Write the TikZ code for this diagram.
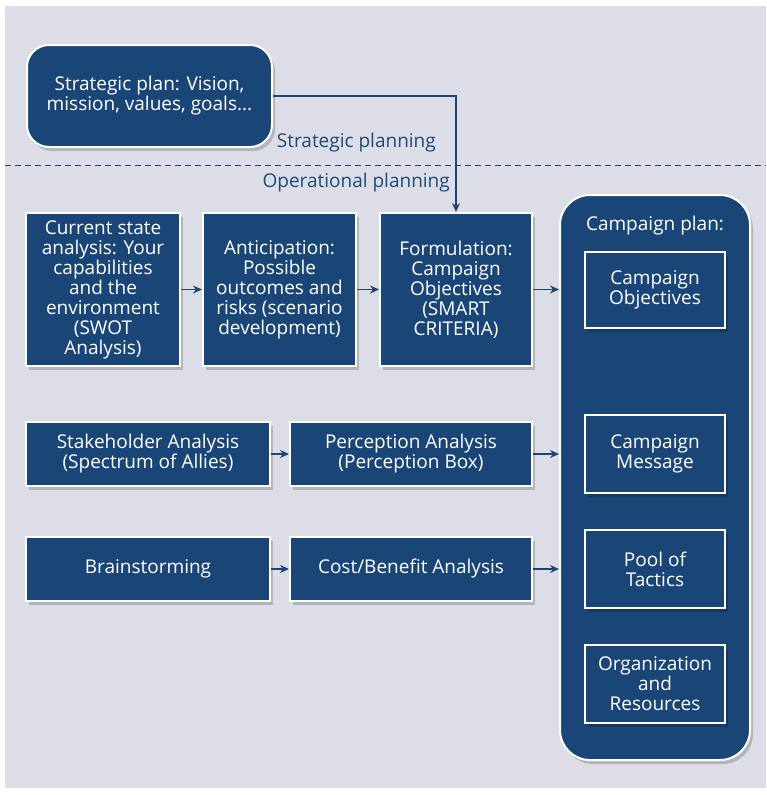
\documentclass[tikz,border=0pt]{standalone}
\usepackage{fontspec}
\setmainfont{Open Sans}
\usetikzlibrary{arrows.meta,shadows}
\definecolor{myblue}{HTML}{1A4577}
\definecolor{bgc}{HTML}{DCDDE6}
\definecolor{txtblue}{HTML}{1F4A7A}
\newcommand{\fsz}{\fontsize{19}{20}\selectfont}
\tikzset{
  box/.style={fill=myblue, draw=white, line width=2pt, text=white, align=center,
    font=\fsz, inner sep=1pt,
    drop shadow={shadow xshift=3pt, shadow yshift=-4pt, opacity=0.18, fill=black}},
  conn/.style={draw=myblue, line width=1.4pt, -{Stealth[length=9pt,width=8pt]}},
  lbl/.style={text=txtblue, font=\fsz, inner sep=0pt}
}
\begin{document}
\begin{tikzpicture}[x=1pt,y=-1pt]
\useasboundingbox (0,0) rectangle (766,795);
\fill[white] (0,0) rectangle (766,795);
\fill[bgc] (5,6) rectangle (766,788);
% dashed separator
\draw[myblue, line width=1pt, dash pattern=on 6pt off 4pt] (5,165) -- (766,165);
% strategic plan
\node[box, rounded corners=22pt, minimum width=245pt, minimum height=102pt] (strat) at (149.5,96)
  {Strategic plan: Vision,\\mission, values, goals...};
\node[lbl, anchor=east] (lsp) at (436,143) {Strategic planning};
\node[lbl, anchor=east] (lop) at (450,183) {Operational planning};
% row 1
\node[box, minimum width=154pt, minimum height=153pt] (cur) at (103,289.5)
  {Current state\\analysis: Your\\capabilities\\and the\\environment\\(SWOT\\Analysis)};
\node[box, minimum width=153pt, minimum height=153pt] (ant) at (279.5,289.5)
  {Anticipation:\\Possible\\outcomes and\\risks (scenario\\development)};
\node[box, minimum width=152pt, minimum height=153pt] (form) at (456,289.5)
  {Formulation:\\Campaign\\Objectives\\(SMART\\CRITERIA)};
% row 2
\node[box, minimum width=244pt, minimum height=64pt] (sta) at (148,454)
  {Stakeholder Analysis\\(Spectrum of Allies)};
\node[box, minimum width=242pt, minimum height=64pt] (per) at (411,454)
  {Perception Analysis\\(Perception Box)};
% row 3
\node[box, minimum width=244pt, minimum height=64pt] (bra) at (148,569)
  {Brainstorming};
\node[box, minimum width=242pt, minimum height=64pt] (cba) at (411,569)
  {Cost/Benefit Analysis};
% campaign plan
\node[box, rounded corners=30pt, minimum width=190pt, minimum height=565pt] (plan) at (655,477.5) {};
\node[lbl, text=white] (ptitle) at (655,226) {Campaign plan:};
\node[box, minimum width=140pt, minimum height=76pt] (cobj) at (655,290) {Campaign\\Objectives};
\node[box, minimum width=140pt, minimum height=78pt] (cmsg) at (655,454) {Campaign\\Message};
\node[box, minimum width=140pt, minimum height=78pt] (pool) at (655,569) {Pool of\\Tactics};
\node[box, minimum width=140pt, minimum height=78pt] (org) at (655,684) {Organization\\and\\Resources};
% connectors
\draw[myblue, line width=2.5pt] (strat.east) -- ++(64,0);
\draw[conn] (strat.east) -| (form.north);
\draw[conn] (cur.east) -- (ant.west);
\draw[conn] (ant.east) -- (form.west);
\draw[conn] (form.east) -- (form.east -| plan.west);
\draw[conn] (sta.east) -- (per.west);
\draw[conn] (per.east) -- (per.east -| plan.west);
\draw[conn] (bra.east) -- (cba.west);
\draw[conn] (cba.east) -- (cba.east -| plan.west);
\end{tikzpicture}
\end{document}
